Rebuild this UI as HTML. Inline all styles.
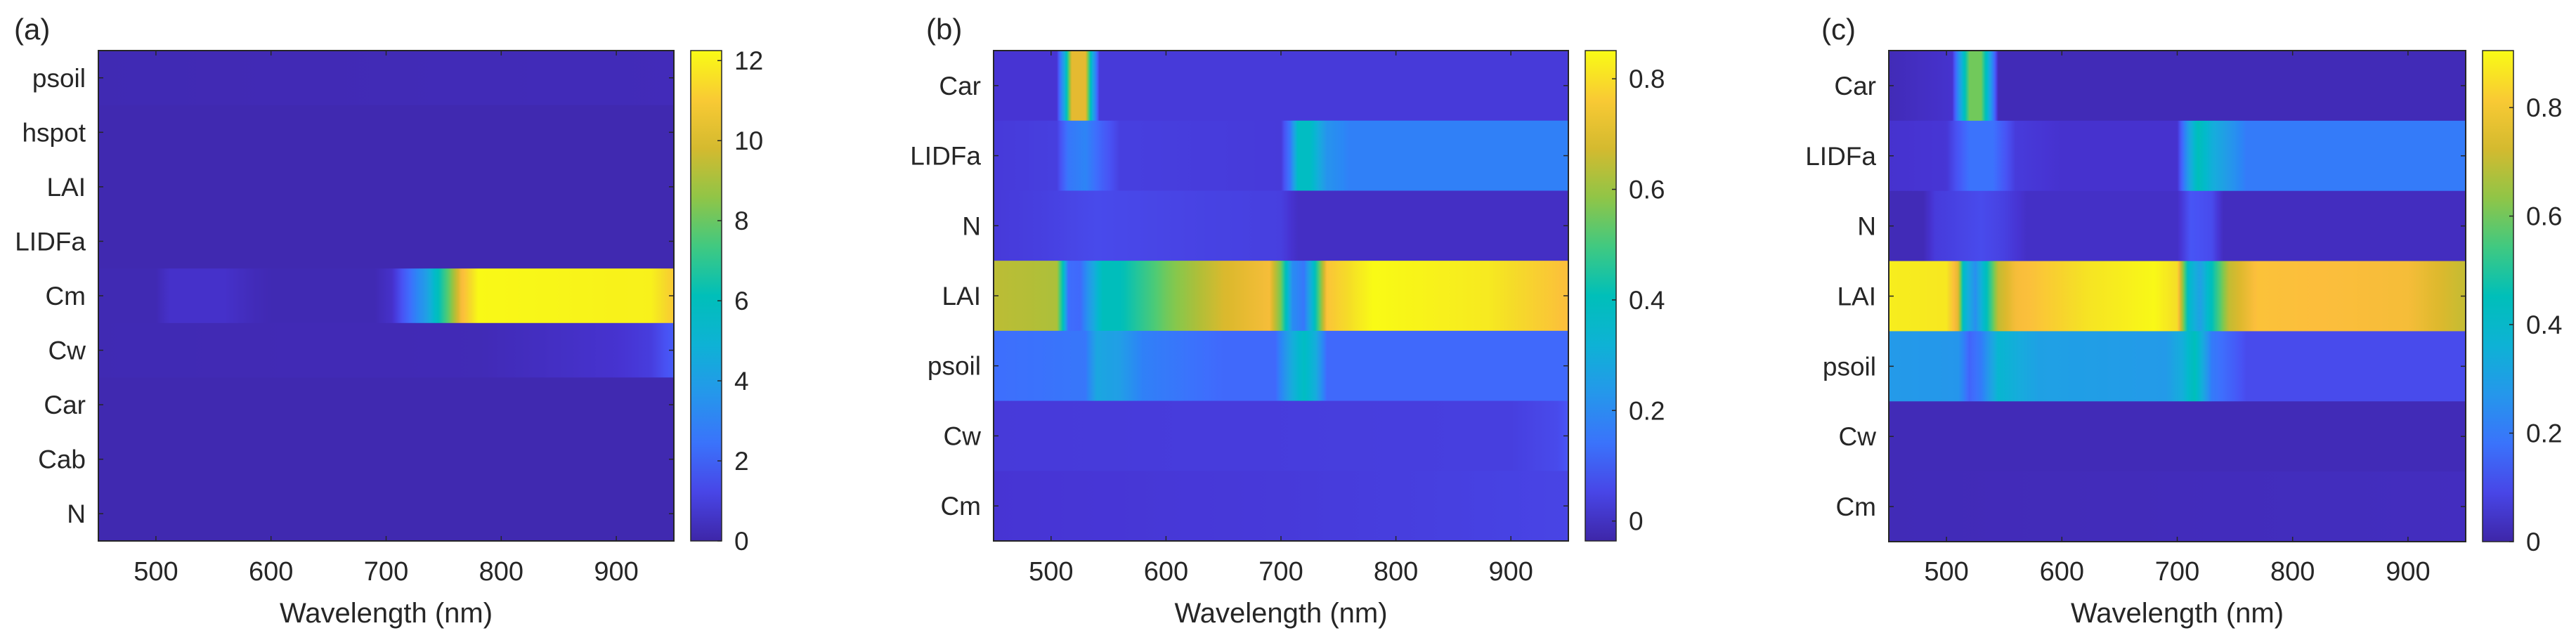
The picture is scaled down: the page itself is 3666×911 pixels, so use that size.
<!DOCTYPE html>
<html><head><meta charset="utf-8"><style>
html,body{margin:0;padding:0;background:#fff;}
svg{display:block;}
text{font-family:"Liberation Sans",Arial,sans-serif;fill:#262626;}
</style></head><body>
<svg id="fig" width="3666" height="911" viewBox="0 0 3666 911" xmlns="http://www.w3.org/2000/svg">
<defs id="defs"></defs>
</svg>
<script>
// ---------- Data (wavelength knots and sensitivity values per row) ----------
const xTicks = [500, 600, 700, 800, 900];
const xDomain = [450, 950];

// Panel (a)
const aRows = ["psoil","hspot","LAI","LIDFa","Cm","Cw","Car","Cab","N"];
const aCbTicks = [0,2,4,6,8,10,12];
const aCbDomain = [0, 12.25];
const aWl_flat = [450, 950];
const aV_psoil = [0.2, 0.3];
const aV_hspot = [0.15, 0.15];
const aV_LAI = [0.15, 0.15];
const aV_LIDFa = [0.15, 0.15];
const aWl_Cm = [450, 500, 512, 560, 585, 600, 690, 705, 720, 735, 745, 755, 765, 780, 930, 950];
const aV_Cm  = [0.2, 0.2, 0.6, 0.6, 0.3, 0.2, 0.2, 0.6, 2.2, 4.0, 6.0, 8.0, 10.5, 12.2, 12.0, 11.0];
const aWl_Cw = [450, 780, 850, 900, 930, 950];
const aV_Cw  = [0.2, 0.25, 0.5, 0.7, 1.0, 1.8];
const aV_Car = [0.15, 0.15];
const aV_Cab = [0.15, 0.15];
const aV_N = [0.15, 0.15];

// Panel (b)
const bRows = ["Car","LIDFa","N","LAI","psoil","Cw","Cm"];
const bCbTicks = [0,0.2,0.4,0.6,0.8];
const bCbDomain = [-0.036, 0.851];
const bWl_Car = [450, 505, 512, 518, 530, 536, 542, 950];
const bV_Car  = [0.02, 0.02, 0.3, 0.7, 0.7, 0.3, 0.03, 0.03];
const bWl_LIDFa = [450, 505, 515, 530, 545, 560, 700, 708, 715, 725, 740, 760, 950];
const bV_LIDFa  = [0.03, 0.04, 0.15, 0.18, 0.1, 0.04, 0.03, 0.15, 0.38, 0.38, 0.22, 0.17, 0.17];
const bWl_N = [450, 490, 540, 600, 700, 715, 950];
const bV_N  = [0.03, 0.04, 0.06, 0.05, 0.04, 0.0, 0.0];
const bWl_LAI = [450, 505, 510, 515, 525, 545, 560, 600, 650, 690, 700, 710, 720, 728, 740, 780, 880, 950];
const bV_LAI  = [0.64, 0.62, 0.42, 0.13, 0.12, 0.4, 0.4, 0.55, 0.68, 0.73, 0.55, 0.2, 0.15, 0.35, 0.75, 0.85, 0.82, 0.74];
const bWl_psoil = [450, 530, 540, 560, 580, 650, 695, 710, 720, 730, 740, 950];
const bV_psoil  = [0.13, 0.15, 0.28, 0.25, 0.17, 0.12, 0.12, 0.3, 0.38, 0.3, 0.12, 0.12];
const bWl_Cw = [450, 900, 940, 950];
const bV_Cw  = [0.03, 0.04, 0.06, 0.08];
const bWl_Cm = [450, 700, 950];
const bV_Cm  = [0.02, 0.03, 0.05];

// Panel (c)
const cRows = ["Car","LIDFa","N","LAI","psoil","Cw","Cm"];
const cCbTicks = [0,0.2,0.4,0.6,0.8];
const cCbDomain = [0, 0.905];
const cWl_Car = [450, 505, 512, 520, 530, 538, 545, 950];
const cV_Car  = [0.02, 0.05, 0.3, 0.6, 0.6, 0.3, 0.02, 0.02];
const cWl_LIDFa = [450, 500, 520, 540, 560, 600, 700, 710, 718, 730, 760, 950];
const cV_LIDFa  = [0.05, 0.06, 0.18, 0.18, 0.07, 0.05, 0.05, 0.3, 0.45, 0.35, 0.2, 0.2];
const cWl_N = [450, 480, 490, 530, 550, 570, 700, 712, 730, 740, 950];
const cV_N  = [0.02, 0.02, 0.07, 0.1, 0.08, 0.04, 0.04, 0.12, 0.1, 0.03, 0.03];
const cWl_LAI = [450, 500, 510, 515, 525, 535, 545, 560, 620, 680, 700, 710, 720, 730, 745, 770, 900, 950];
const cV_LAI  = [0.88, 0.87, 0.75, 0.4, 0.25, 0.45, 0.7, 0.78, 0.86, 0.9, 0.85, 0.4, 0.3, 0.45, 0.7, 0.8, 0.78, 0.7];
const cWl_psoil = [450, 510, 520, 530, 545, 580, 690, 705, 715, 730, 760, 950];
const cV_psoil  = [0.28, 0.27, 0.15, 0.2, 0.38, 0.3, 0.28, 0.35, 0.45, 0.2, 0.1, 0.1];
const cWl_Cw = [450, 950];
const cV_Cw  = [0.02, 0.02];
const cWl_Cm = [450, 950];
const cV_Cm  = [0.02, 0.03];

// ---------- Rendering ----------
const NS = "http://www.w3.org/2000/svg";
const svg = document.getElementById('fig');
const defs = document.getElementById('defs');
const parula = [[0,62,38,168],[0.0625,71,52,211],[0.125,72,82,244],[0.1875,62,110,253],[0.25,43,135,245],[0.3125,35,155,232],[0.375,22,172,220],[0.4375,2,186,203],[0.5,0,191,185],[0.5625,40,198,150],[0.625,80,203,115],[0.6875,135,199,75],[0.75,180,190,55],[0.8125,220,185,45],[0.875,252,190,60],[0.9375,245,220,40],[1,249,251,21]];
function cmap(t){
  t=Math.max(0,Math.min(1,t));
  for(let i=1;i<parula.length;i++){
    if(t<=parula[i][0]){
      const a=parula[i-1],b=parula[i],f=(t-a[0])/(b[0]-a[0]);
      return 'rgb('+[1,2,3].map(k=>Math.round(a[k]+(b[k]-a[k])*f)).join(',')+')';
    }
  }
  return 'rgb(249,251,21)';
}
function el(tag,attrs,parent){const e=document.createElementNS(NS,tag);for(const k in attrs)e.setAttribute(k,attrs[k]);(parent||svg).appendChild(e);return e;}
let gid=0;
function gradient(wl,vals,dom,vertical){
  const id='g'+(gid++);
  const g=el('linearGradient',{id:id,x1:0,y1:vertical?1:0,x2:vertical?0:1,y2:0},defs);
  for(let i=0;i<wl.length;i++){
    const steps=(i<wl.length-1)?10:1;
    for(let s=0;s<steps;s++){
      const f=s/steps;
      const w=i<wl.length-1?wl[i]+(wl[i+1]-wl[i])*f:wl[i];
      const v=i<wl.length-1?vals[i]+(vals[i+1]-vals[i])*f:vals[i];
      el('stop',{offset:((w-wl[0])/(wl[wl.length-1]-wl[0])).toFixed(4),'stop-color':cmap((v-dom[0])/(dom[1]-dom[0]))},g);
    }
  }
  return id;
}
function panel(p){
  const {L,R,T,B,cbL,cbR,rows,data,cbDom,cbTicks,letter,letterX,key}=p;
  const g=el('g',{});
  
  
  const xs=w=>L+(w-xDomain[0])/(xDomain[1]-xDomain[0])*(R-L);
  const rh=(B-T)/rows.length;
  rows.forEach((r,i)=>{
    const d=data[i];
    const id=gradient(d[0],d[1],cbDom,false);
    const x0=xs(d[0][0]),x1=xs(d[0][d[0].length-1]);
    const rect=el('rect',{x:x0,y:T+i*rh,width:x1-x0,height:rh+0.5,fill:'url(#'+id+')'},g);
    
    
    const yc=T+(i+0.5)*rh;
    const t=el('text',{x:L-18,y:yc+13,'font-size':37,'text-anchor':'end'},g);
    t.textContent=r;
    
    
    el('line',{x1:L,x2:L+7,y1:yc,y2:yc,stroke:'#262626','stroke-width':1.5},g);
    el('line',{x1:R,x2:R-7,y1:yc,y2:yc,stroke:'#262626','stroke-width':1.5},g);
  });
  xTicks.forEach(v=>{
    const x=xs(v);
    el('line',{x1:x,x2:x,y1:B,y2:B-7,stroke:'#262626','stroke-width':1.5},g);
    el('line',{x1:x,x2:x,y1:T,y2:T+7,stroke:'#262626','stroke-width':1.5},g);
    const t=el('text',{x:x,y:826,'font-size':38,'text-anchor':'middle'},g);
    t.textContent=v;
    
    
  });
  const ax=el('rect',{x:L,y:T,width:R-L,height:B-T,fill:'none',stroke:'#262626','stroke-width':2},g);
  
  
  const xl=el('text',{x:(L+R)/2,y:886,'font-size':40,'text-anchor':'middle'},g);
  xl.textContent='Wavelength (nm)';
  
  
  const lt=el('text',{x:letterX,y:56,'font-size':42},g);
  lt.textContent='('+letter+')';
  
  
  // colorbar
  const cbid=gradient([cbDom[0],cbDom[1]],[cbDom[0],cbDom[1]],cbDom,true);
  const cb=el('rect',{x:cbL,y:T,width:cbR-cbL,height:B-T,fill:'url(#'+cbid+')',stroke:'#262626','stroke-width':1.5},g);
  
  
  const ys=v=>B-(v-cbDom[0])/(cbDom[1]-cbDom[0])*(B-T);
  cbTicks.forEach(v=>{
    const y=ys(v);
    el('line',{x1:cbR,x2:cbR-6,y1:y,y2:y,stroke:'#262626','stroke-width':1.5},g);
    const t=el('text',{x:cbR+18,y:y+13,'font-size':37},g);
    t.textContent=String(v);
    
    
  });
}
panel({key:'a',letter:'a',letterX:20,L:140,R:959,T:72,B:770,cbL:983,cbR:1027,rows:aRows,cbDom:aCbDomain,cbTicks:aCbTicks,
  data:[[aWl_flat,aV_psoil],[aWl_flat,aV_hspot],[aWl_flat,aV_LAI],[aWl_flat,aV_LIDFa],[aWl_Cm,aV_Cm],[aWl_Cw,aV_Cw],[aWl_flat,aV_Car],[aWl_flat,aV_Cab],[aWl_flat,aV_N]]});
panel({key:'b',letter:'b',letterX:1318,L:1414,R:2232,T:72,B:770,cbL:2256,cbR:2300,rows:bRows,cbDom:bCbDomain,cbTicks:bCbTicks,
  data:[[bWl_Car,bV_Car],[bWl_LIDFa,bV_LIDFa],[bWl_N,bV_N],[bWl_LAI,bV_LAI],[bWl_psoil,bV_psoil],[bWl_Cw,bV_Cw],[bWl_Cm,bV_Cm]]});
panel({key:'c',letter:'c',letterX:2592,L:2688,R:3509,T:72,B:771,cbL:3533,cbR:3577,rows:cRows,cbDom:cCbDomain,cbTicks:cCbTicks,
  data:[[cWl_Car,cV_Car],[cWl_LIDFa,cV_LIDFa],[cWl_N,cV_N],[cWl_LAI,cV_LAI],[cWl_psoil,cV_psoil],[cWl_Cw,cV_Cw],[cWl_Cm,cV_Cm]]});
</script>
</body></html>
